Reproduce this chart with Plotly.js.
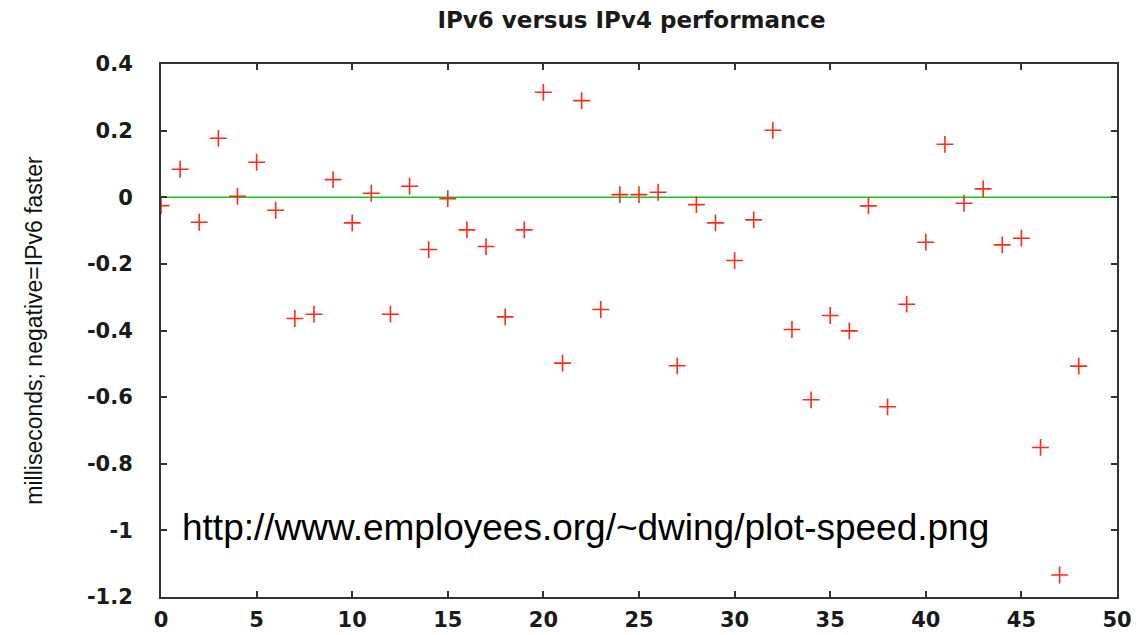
<!DOCTYPE html>
<html>
<head>
<meta charset="utf-8">
<script src="https://cdn.plot.ly/plotly-3.0.1.min.js"></script>
<style>html,body{margin:0;padding:0;background:#fff;}#chart{width:1142px;height:635px;}</style>
</head>
<body>
<div id="chart"></div>
<script>
// Test index (x) and IPv6 - IPv4 difference in milliseconds (y)
const testIndex = [0,1,2,3,4,5,6,7,8,9,10,11,12,13,14,15,16,17,18,19,20,21,22,23,24,25,26,27,28,29,30,31,32,33,34,35,36,37,38,39,40,41,42,43,44,45,46,47,48];
const diffMs = [-0.025,0.084,-0.075,0.177,0.003,0.105,-0.039,-0.364,-0.351,0.053,
                -0.077,0.012,-0.351,0.033,-0.157,-0.004,-0.098,-0.148,-0.359,-0.098,
                0.315,-0.498,0.290,-0.337,0.008,0.008,0.015,-0.506,-0.022,-0.077,
                -0.190,-0.068,0.201,-0.397,-0.608,-0.355,-0.401,-0.026,-0.629,-0.321,
                -0.135,0.159,-0.018,0.025,-0.143,-0.123,-0.751,-1.134,-0.507];
const xTicks = [0,5,10,15,20,25,30,35,40,45,50];
const yTicks = [0.4,0.2,0,-0.2,-0.4,-0.6,-0.8,-1,-1.2];
const referenceLevel = 0;
const chartTitle = "IPv6 versus IPv4 performance";
const yTitle = "milliseconds; negative=IPv6 faster";
const sourceNote = "http://www.employees.org/~dwing/plot-speed.png";

const tickFont = {family: "DejaVu Sans, sans-serif", size: 21, color: "#1a1a1a", weight: "bold"};

const trace = {
  x: testIndex, y: diffMs, type: "scatter", mode: "markers",
  marker: {symbol: "cross-thin", size: 12, color: "#ff2a1a", line: {color: "#ff2a1a", width: 1.6}},
  hoverinfo: "x+y", showlegend: false
};

const layout = {
  width: 1142, height: 635,
  margin: {l: 161, r: 25, t: 64, b: 38},
  paper_bgcolor: "#ffffff", plot_bgcolor: "#ffffff",
  title: {text: chartTitle, font: {family: "DejaVu Sans, sans-serif", size: 23, color: "#1a1a1a", weight: "bold"},
          x: 0.553, xanchor: "center", y: 0.968, yanchor: "middle"},
  xaxis: {range: [0, 50], tickvals: xTicks, ticktext: xTicks.map(String),
          ticks: "inside", ticklen: 6, tickwidth: 2, tickcolor: "#333",
          showline: true, linecolor: "#333", linewidth: 2, mirror: "ticks",
          showgrid: false, zeroline: false, tickfont: tickFont, ticklabelstandoff: 3},
  yaxis: {range: [-1.2, 0.4], tickvals: yTicks, ticktext: yTicks.map(String),
          ticks: "inside", ticklen: 6, tickwidth: 2, tickcolor: "#333",
          showline: true, linecolor: "#333", linewidth: 2, mirror: "ticks",
          showgrid: false, zeroline: false,
          tickfont: tickFont, ticklabelstandoff: 22,
          title: {text: yTitle, font: {family: "Liberation Sans Narrow, Liberation Sans, sans-serif", size: 23, color: "#111"}, standoff: 38}},
  shapes: [{type: "line", xref: "paper", x0: 0, x1: 1, yref: "y", y0: referenceLevel, y1: referenceLevel,
            line: {color: "#1ec01e", width: 1.6}, layer: "below"}],
  annotations: [{text: sourceNote, xref: "paper", yref: "paper", x: 0.02, y: 0.13,
                 xanchor: "left", yanchor: "middle", showarrow: false,
                 font: {family: "Liberation Sans, Arial, sans-serif", size: 37, color: "#000"}}]
};

Plotly.newPlot("chart", [trace], layout, {displayModeBar: false, staticPlot: true});
</script>
</body>
</html>
